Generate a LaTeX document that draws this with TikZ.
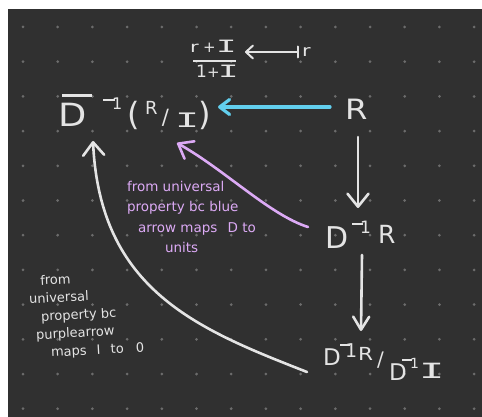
\documentclass[tikz,border=0pt]{standalone}
\usepackage{graphicx}
\usepackage{fontspec}
\setmainfont{DejaVu Sans}
\newfontfamily\monof{DejaVu Sans Mono}
\usetikzlibrary{arrows.meta}
\newcommand\gl[4]{\makebox[0pt][l]{\hspace*{#1pt}\raisebox{#2pt}{\fontsize{#3}{#3}\selectfont #4}}}
\newcommand\wI{\scalebox{2}[1]{\monof I}}
\definecolor{bgdark}{HTML}{303030}
\definecolor{dotc}{HTML}{6C6C6C}
\definecolor{wtext}{HTML}{E4E4E4}
\definecolor{bluec}{HTML}{62CFEE}
\definecolor{purp}{HTML}{DCAAF5}
\begin{document}
\begin{tikzpicture}[x=1pt,y=-1pt,
  lbl/.style={inner sep=0pt,outer sep=0pt,text=wtext,anchor=base west},
  ptext/.style={inner sep=0pt,outer sep=0pt,anchor=north west,align=left,text=purp,font=\fontsize{13.5}{20.5}\selectfont},
  wtextnode/.style={inner sep=0pt,outer sep=0pt,anchor=north west,align=left,text=wtext,font=\fontsize{13}{18}\selectfont,rotate=3},
  warr/.style={draw=wtext,line width=2.6pt,line cap=round,-{Straight Barb[round,length=13pt,width=21pt]}},
  warrs/.style={draw=wtext,line width=2.6pt,line cap=round,-{Straight Barb[round,length=13pt,width=16pt]}},
  bluearr/.style={draw=bluec,line width=3.2pt,line cap=round,-{Straight Barb[round,length=10pt,width=15pt]}},
  parr/.style={draw=purp,line width=2.6pt,line cap=round,-{Straight Barb[round,length=13pt,width=20pt]}},
  mapsarr/.style={draw=wtext,line width=2pt,line cap=round,{Bar[round,width=11pt]}-{Straight Barb[round,length=7pt,width=13pt]}}
]
\useasboundingbox (0,0) rectangle (482,417);
\fill[white] (0,0) rectangle (482,417);
\fill[bgdark] (8,9) rectangle (482,417);
\foreach \i in {0,...,13}{
  \foreach \j in {0,...,11}{
    \fill[dotc] (23+34.7*\i,27+34.7*\j) circle (1.5);
  }
}
% labels
\node[lbl] (L) at (62,127) {%
  \gl{-3}{0}{32}{\scalebox{1.15}[1]{D}}%
  \gl{0}{30}{10}{\rule{30pt}{2.5pt}}%
  \gl{41}{26}{10}{\rule{12pt}{2.2pt}}%
  \gl{50}{17}{16}{1}%
  \gl{65}{1}{32}{(}%
  \gl{83}{12}{18}{R}%
  \gl{100}{2}{21}{/}%
  \gl{113}{-1}{20}{\wI}%
  \gl{136}{1}{32}{)}%
  \hspace*{151pt}};
\node[lbl] (F) at (190,53) {%
  \gl{0}{0}{15}{\scalebox{1.4}[1]{r}}%
  \gl{13}{0}{15}{+}%
  \gl{26}{0}{17}{\wI}%
  \gl{3}{-9.5}{10}{\rule{43pt}{2.5pt}}%
  \gl{6}{-25}{17}{1}%
  \gl{17}{-25}{15}{+}%
  \gl{28}{-25}{17}{\wI}%
  \hspace*{46pt}};
\node[lbl] (rr) at (302,57) {\fontsize{16}{16}\selectfont\scalebox{1.3}[1]{r}};
\node[lbl] (R) at (345,120) {\fontsize{28}{28}\selectfont\scalebox{1.15}[1]{R}};
\node[lbl] (DR) at (328,248) {%
  \gl{-3}{0}{30}{D}%
  \gl{24}{23}{10}{\rule{11pt}{2.4pt}}%
  \gl{32}{15}{17}{1}%
  \gl{50}{5}{25}{R}%
  \hspace*{72pt}};
\node[lbl] (Q) at (325,365) {%
  \gl{-2}{0}{23}{D}%
  \gl{15}{19}{10}{\rule{10pt}{2.2pt}}%
  \gl{20}{8}{19}{1}%
  \gl{33}{5}{18}{\scalebox{1.2}[1]{R}}%
  \gl{52}{-1}{20}{/}%
  \gl{64}{-15}{23}{D}%
  \gl{77}{4}{10}{\rule{10pt}{2.2pt}}%
  \gl{85}{-3}{14}{1}%
  \gl{94}{-13}{21}{\wI}%
  \hspace*{113pt}};
% notes
\node[ptext] (note1) at (127,181) {from universal\\ property bc blue\\ \hspace*{11pt}arrow maps\hspace{6pt} D to\\ \hspace*{38pt}units};
\node[wtextnode] (note2) at (28,276) {\hspace*{12pt}from\\ universal\\ \hspace*{11pt}property bc\\ \hspace*{5pt}purplearrow\\ \hspace*{19pt}maps\hspace{6pt} I\hspace{6pt} to\hspace{8pt} 0};
% connectors
\draw[mapsarr] ([shift={(-3,-5)}]rr.base west) -- ([shift={(9,-1)}]F.base east);
\draw[bluearr] ([shift={(-15,-13)}]R.base west) -- ([shift={(5,-20)}]L.base east);
\draw[warr] ([shift={(13,17)}]R.base west) -- ([shift={(30,-40)}]DR.base west);
\draw[warrs] ([shift={(34,7)}]DR.base west) -- ([shift={(36,-34)}]Q.base west);
\draw[parr] ([shift={(-20,-21)}]DR.base west) .. controls (270,215) and (225,170) .. ([shift={(115,16)}]L.base west);
\draw[warr] ([shift={(-18,7)}]Q.base west) .. controls (197,329) and (100,290) .. ([shift={(31,14)}]L.base west);
\end{tikzpicture}
\end{document}
